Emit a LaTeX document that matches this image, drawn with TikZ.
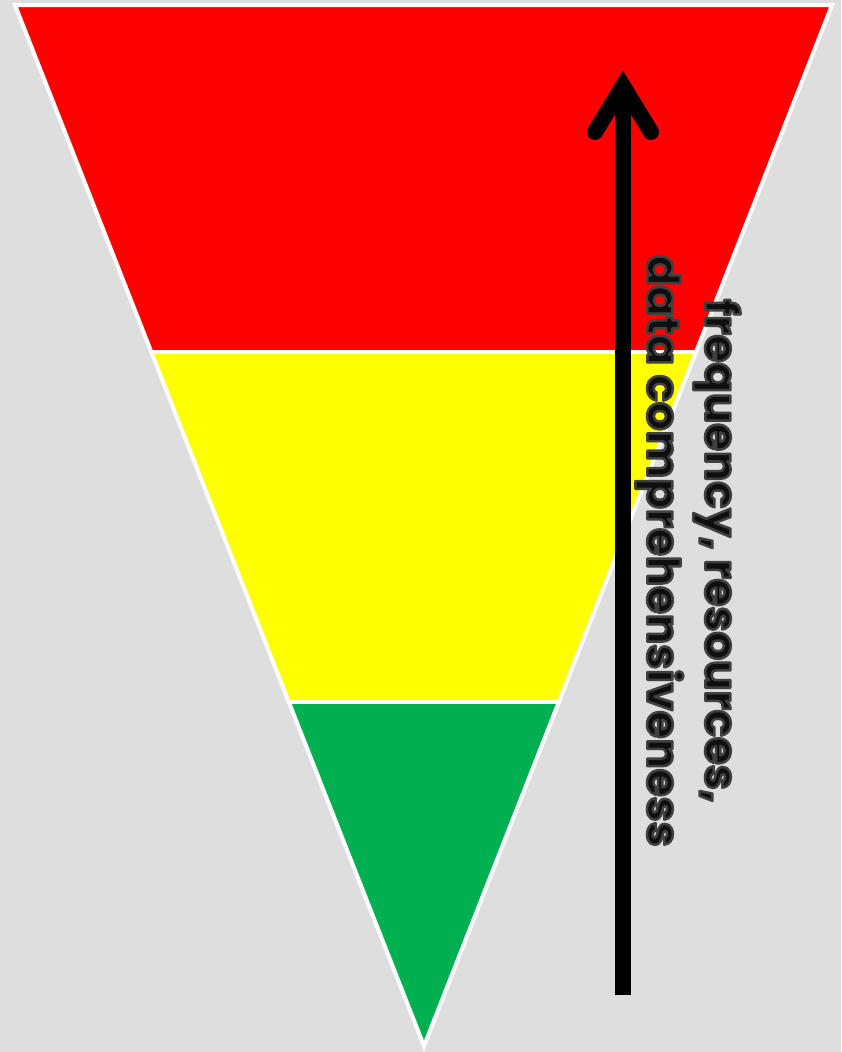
\documentclass[tikz,border=0pt]{standalone}
\usepackage{fontspec}
\newfontfamily\labelfont{Poppins}
\definecolor{bgc}{RGB}{222,222,222}
\definecolor{topred}{RGB}{255,0,0}
\definecolor{midyellow}{RGB}{255,255,0}
\definecolor{lowgreen}{RGB}{0,176,80}
\definecolor{txt}{RGB}{15,15,15}
\newcommand{\outlinedtext}[1]{\special{pdf:literal direct 2 Tr 2.5 w 1 j 0.25 0.25 0.25 RG}#1\special{pdf:literal direct 0 Tr}}
\tikzset{
  bandedge/.style={draw=white, line width=4pt},
  arrowline/.style={draw=black, line width=16pt},
  sidelabel/.style={rotate=-90, align=center, text=txt, inner sep=0pt,
    font=\labelfont\bfseries\fontsize{45}{58}\selectfont}
}
\begin{document}
\begin{tikzpicture}[x=1pt,y=-1pt]
\useasboundingbox (0,0) rectangle (841,1052);
\fill[bgc] (0,0) rectangle (841,1052);
\coordinate (TL) at (15,5);
\coordinate (TR) at (832,5);
\coordinate (A) at (424,1046);
\coordinate (L1) at (151,352);
\coordinate (R1) at (695,352);
\coordinate (L2) at (289,702);
\coordinate (R2) at (558,702);
\fill[topred] (TL) -- (TR) -- (R1) -- (L1) -- cycle;
\fill[midyellow] (L1) -- (R1) -- (R2) -- (L2) -- cycle;
\fill[lowgreen] (L2) -- (R2) -- (A) -- cycle;
\draw[bandedge] (L1) -- (R1);
\draw[bandedge] (L2) -- (R2);
\draw[bandedge, line join=miter] (TL) -- (TR) -- (A) -- cycle;
\coordinate (shaftBottom) at (623,995);
\coordinate (tip) at (623,86);
\coordinate (armL) at (595,132);
\coordinate (armR) at (651,132);
\draw[arrowline] (shaftBottom) -- (tip);
\draw[arrowline, line cap=round, line join=miter] (armL) -- (tip) -- (armR);
\node[sidelabel] (lbl) at (688,551) {\outlinedtext{frequency, resources,}\\\outlinedtext{data comprehensiveness}};
\end{tikzpicture}
\end{document}
